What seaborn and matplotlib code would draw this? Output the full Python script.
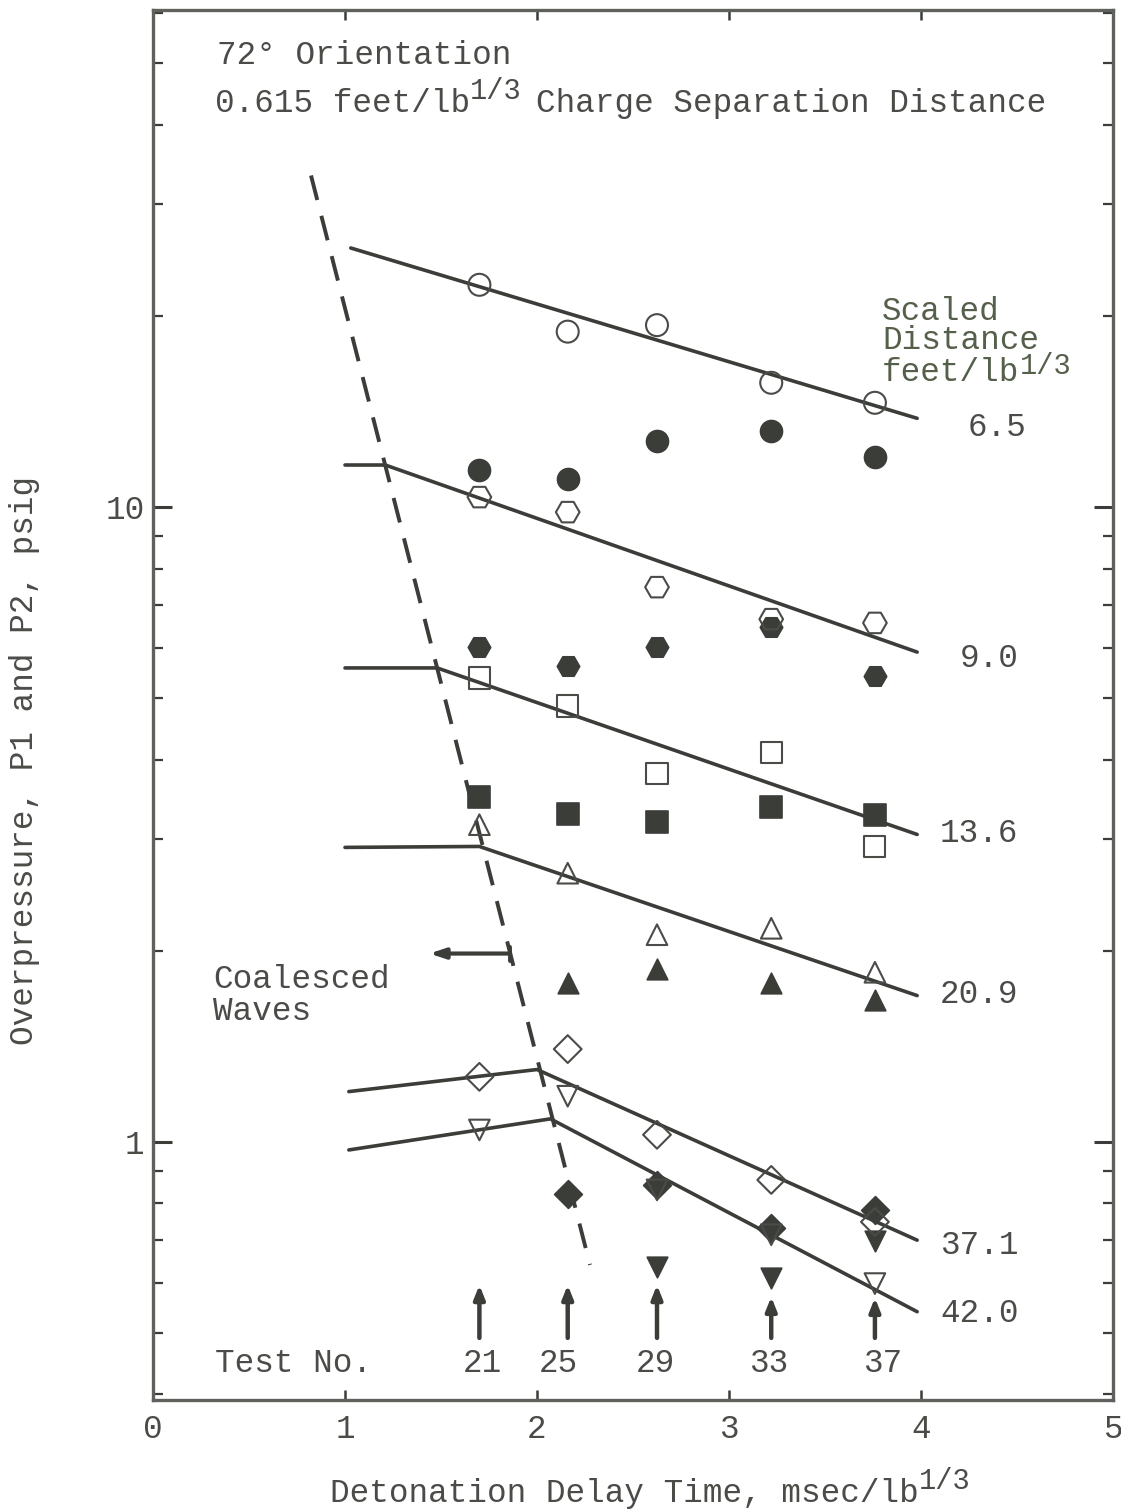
import numpy as np
import pandas as pd
import matplotlib
matplotlib.use("Agg")
import matplotlib.pyplot as plt
import seaborn as sns

# ---- data -------------------------------------------------------------
test_x = [1.70, 2.16, 2.625, 3.22, 3.76]
test_no = ["21", "25", "29", "33", "37"]

p1_65 = [22.4, 18.9, 19.35, 15.7, 14.6]
p2_65 = [11.44, 11.07, 12.7, 13.2, 12.0]
p1_90 = [10.37, 9.82, 7.48, 6.66, 6.57]
p2_90 = [6.02, 5.62, 6.02, 6.47, 5.42]
p1_136 = [5.38, 4.86, 3.80, 4.11, 2.92]
p2_136 = [3.49, 3.29, 3.19, 3.37, 3.27]
p1_209 = [3.16, 2.65, 2.12, 2.17, 1.85]
p2_209 = [np.nan, 1.78, 1.87, 1.78, 1.67]
p1_371 = [1.266, 1.40, 1.026, 0.871, 0.748]
p2_371 = [np.nan, 0.828, 0.856, 0.732, 0.782]
p1_420 = [1.044, 1.18, 0.84, 0.714, 0.598]
p2_420 = [np.nan, np.nan, 0.636, 0.611, 0.699]

fit_65_x, fit_65_y = [1.03, 3.98], [25.6, 13.8]
fit_90_x, fit_90_y = [1.0, 1.21, 3.98], [11.65, 11.65, 5.91]
fit_136_x, fit_136_y = [1.0, 1.48, 3.98], [5.58, 5.58, 3.05]
fit_209_x, fit_209_y = [1.0, 1.70, 3.98], [2.91, 2.92, 1.70]
fit_371_x, fit_371_y = [1.02, 2.0, 3.98], [1.20, 1.30, 0.70]
fit_420_x, fit_420_y = [1.02, 2.07, 3.98], [0.971, 1.087, 0.54]

coalesce_x, coalesce_y = [0.823, 2.276], [33.3, 0.64]
coalesce_arrow_x, coalesce_arrow_y = [1.86, 1.44], 1.98

arrow_base = [0.491, 0.491, 0.491, 0.491, 0.491]
arrow_tip = [0.595, 0.595, 0.595, 0.570, 0.568]

distance_labels = ["6.5", "9.0", "13.6", "20.9", "37.1", "42.0"]

# ---- style ------------------------------------------------------------
sns.set_style("ticks")
plt.rcParams["font.family"] = ["Liberation Mono", "DejaVu Sans Mono"]
plt.rcParams["mathtext.fontset"] = "custom"
plt.rcParams["mathtext.rm"] = "Liberation Mono"
plt.rcParams["mathtext.it"] = "Liberation Mono"
plt.rcParams["mathtext.default"] = "regular"

INK = "#3b3d39"
TXT = "#4a4c48"
GRN = "#55604b"
FS = 23.5

W, H = 1121, 1512
fig = plt.figure(figsize=(W / 100, H / 100), dpi=100)
ax = fig.add_axes([153 / W, 1 - 1400 / H, 960 / W, 1390 / H])
ax.set_yscale("log")
ax.set_xlim(0, 5)
ax.set_ylim(0.392, 60.7)


def fx(px):
    return px / W


def fy(py):
    return 1 - py / H


def sup_text(px, py, base, sup, tail="", color=TXT, raise_px=13):
    """Text with a raised '1/3' exponent set at near-full size."""
    t = fig.text(fx(px), fy(py), base, fontsize=FS, color=color, va="baseline")
    fig.canvas.draw()
    bb = t.get_window_extent()
    s = fig.text(bb.x1 / W, fy(py - raise_px), sup, fontsize=FS * 0.88, color=color,
                 va="baseline")
    if tail:
        bb2 = s.get_window_extent()
        fig.text(bb2.x1 / W + 14 / W, fy(py), tail, fontsize=FS, color=color,
                 va="baseline")


# fitted lines
for xs, ys in [(fit_65_x, fit_65_y), (fit_90_x, fit_90_y), (fit_136_x, fit_136_y),
               (fit_209_x, fit_209_y), (fit_371_x, fit_371_y), (fit_420_x, fit_420_y)]:
    sns.lineplot(x=xs, y=ys, ax=ax, color=INK, lw=2.6, sort=False,
                 estimator=None, solid_capstyle="round")

# coalesced-wave boundary
sns.lineplot(x=coalesce_x, y=coalesce_y, ax=ax, color=INK, lw=2.8, sort=False,
             estimator=None)
ax.lines[-1].set_linestyle((0, (6.5, 4.2)))

# data points: open = P1, filled = P2
series = [
    (p1_65, "o", False, 250), (p2_65, "o", True, 250),
    (p1_90, "H", False, 290), (p2_90, "H", True, 260),
    (p1_136, "s", False, 230), (p2_136, "s", True, 230),
    (p1_209, "^", False, 220), (p2_209, "^", True, 220),
    (p1_371, "D", False, 200), (p2_371, "D", True, 200),
    (p1_420, "v", False, 220), (p2_420, "v", True, 220),
]
for vals, mk, filled, size in series:
    df = pd.DataFrame({"t": test_x, "p": vals}).dropna()
    if filled:
        sns.scatterplot(data=df, x="t", y="p", ax=ax, marker=mk, s=size,
                        color=INK, edgecolor=INK, linewidth=1.2, zorder=4)
    else:
        sns.scatterplot(data=df, x="t", y="p", ax=ax, marker=mk, s=size,
                        color=TXT, facecolor="none", edgecolor="#4a4c48",
                        linewidth=1.5, zorder=5)

# arrow pointing to coalesced waves
ax.annotate("", xy=(coalesce_arrow_x[1], coalesce_arrow_y),
            xytext=(coalesce_arrow_x[0], coalesce_arrow_y),
            arrowprops=dict(arrowstyle="-|>,head_length=0.9,head_width=0.3",
                            color=INK, lw=3.0, shrinkA=0, shrinkB=0))
ax.plot([coalesce_arrow_x[0]] * 2, [coalesce_arrow_y * 0.975, coalesce_arrow_y * 1.025],
        color=INK, lw=2.8)

# test-number arrows
for xv, b, t in zip(test_x, arrow_base, arrow_tip):
    ax.annotate("", xy=(xv, t), xytext=(xv, b),
                arrowprops=dict(arrowstyle="-|>,head_length=0.8,head_width=0.32",
                                color=INK, lw=3.2, shrinkA=0, shrinkB=0))

# ---- axes -------------------------------------------------------------
ax.set_xticks([0, 1, 2, 3, 4, 5])
ax.set_xticklabels(["0", "1", "2", "3", "4", "5"])
ax.set_yticks([1, 10])
ax.set_yticklabels(["1", "10"])
ax.yaxis.set_minor_locator(matplotlib.ticker.LogLocator(base=10, subs=np.arange(2, 10)))
ax.yaxis.set_minor_formatter(matplotlib.ticker.NullFormatter())
ax.tick_params(axis="both", which="both", direction="in", colors=INK,
               labelcolor=TXT, labelsize=FS)
ax.tick_params(axis="x", which="major", top=True, bottom=True, length=7, width=1.8, pad=10)
ax.tick_params(axis="y", which="major", left=True, right=True, length=14, width=2.2, pad=6)
ax.tick_params(axis="y", which="minor", left=True, right=True, length=7, width=1.6)
ax.tick_params(axis="x", which="minor", bottom=False, top=False)
for sp in ax.spines.values():
    sp.set_color("#5f625c")
    sp.set_linewidth(2.4)

ax.set_xlabel(" ", fontsize=FS)
ax.set_ylabel("Overpressure, P1 and P2, psig", fontsize=FS, color=TXT)
ax.yaxis.set_label_coords(-0.118, 0.46)

# ---- annotations ------------------------------------------------------
fig.text(fx(217), fy(64), "72° Orientation", fontsize=FS, color=TXT, va="baseline")
sup_text(215, 112, "0.615 feet/lb", "1/3", "Charge Separation Distance")

fig.text(fx(882), fy(320), "Scaled", fontsize=FS, color=GRN, va="baseline")
fig.text(fx(882), fy(349), "Distance", fontsize=FS, color=GRN, va="baseline")
sup_text(882, 381, "feet/lb", "1/3", color=GRN, raise_px=7)

sup_text(330, 1502, "Detonation Delay Time, msec/lb", "1/3")

label_pos = [(968, 436), (960, 667), (940, 842), (940, 1003), (940, 1254), (940, 1322)]
for lab, (px, py) in zip(distance_labels, label_pos):
    fig.text(fx(px), fy(py), lab, fontsize=FS, color=TXT, va="baseline")

fig.text(fx(213), fy(988), "Coalesced", fontsize=FS, color=TXT, va="baseline")
fig.text(fx(213), fy(1020), "Waves", fontsize=FS, color=TXT, va="baseline")

fig.text(fx(215), fy(1372), "Test No.", fontsize=FS, color=TXT, va="baseline")
for lab, px in zip(test_no, [482, 558, 655, 769, 883]):
    fig.text(fx(px), fy(1372), lab, fontsize=FS, color=TXT, va="baseline", ha="center")

fig.savefig("out.png", dpi=100, facecolor="white")
